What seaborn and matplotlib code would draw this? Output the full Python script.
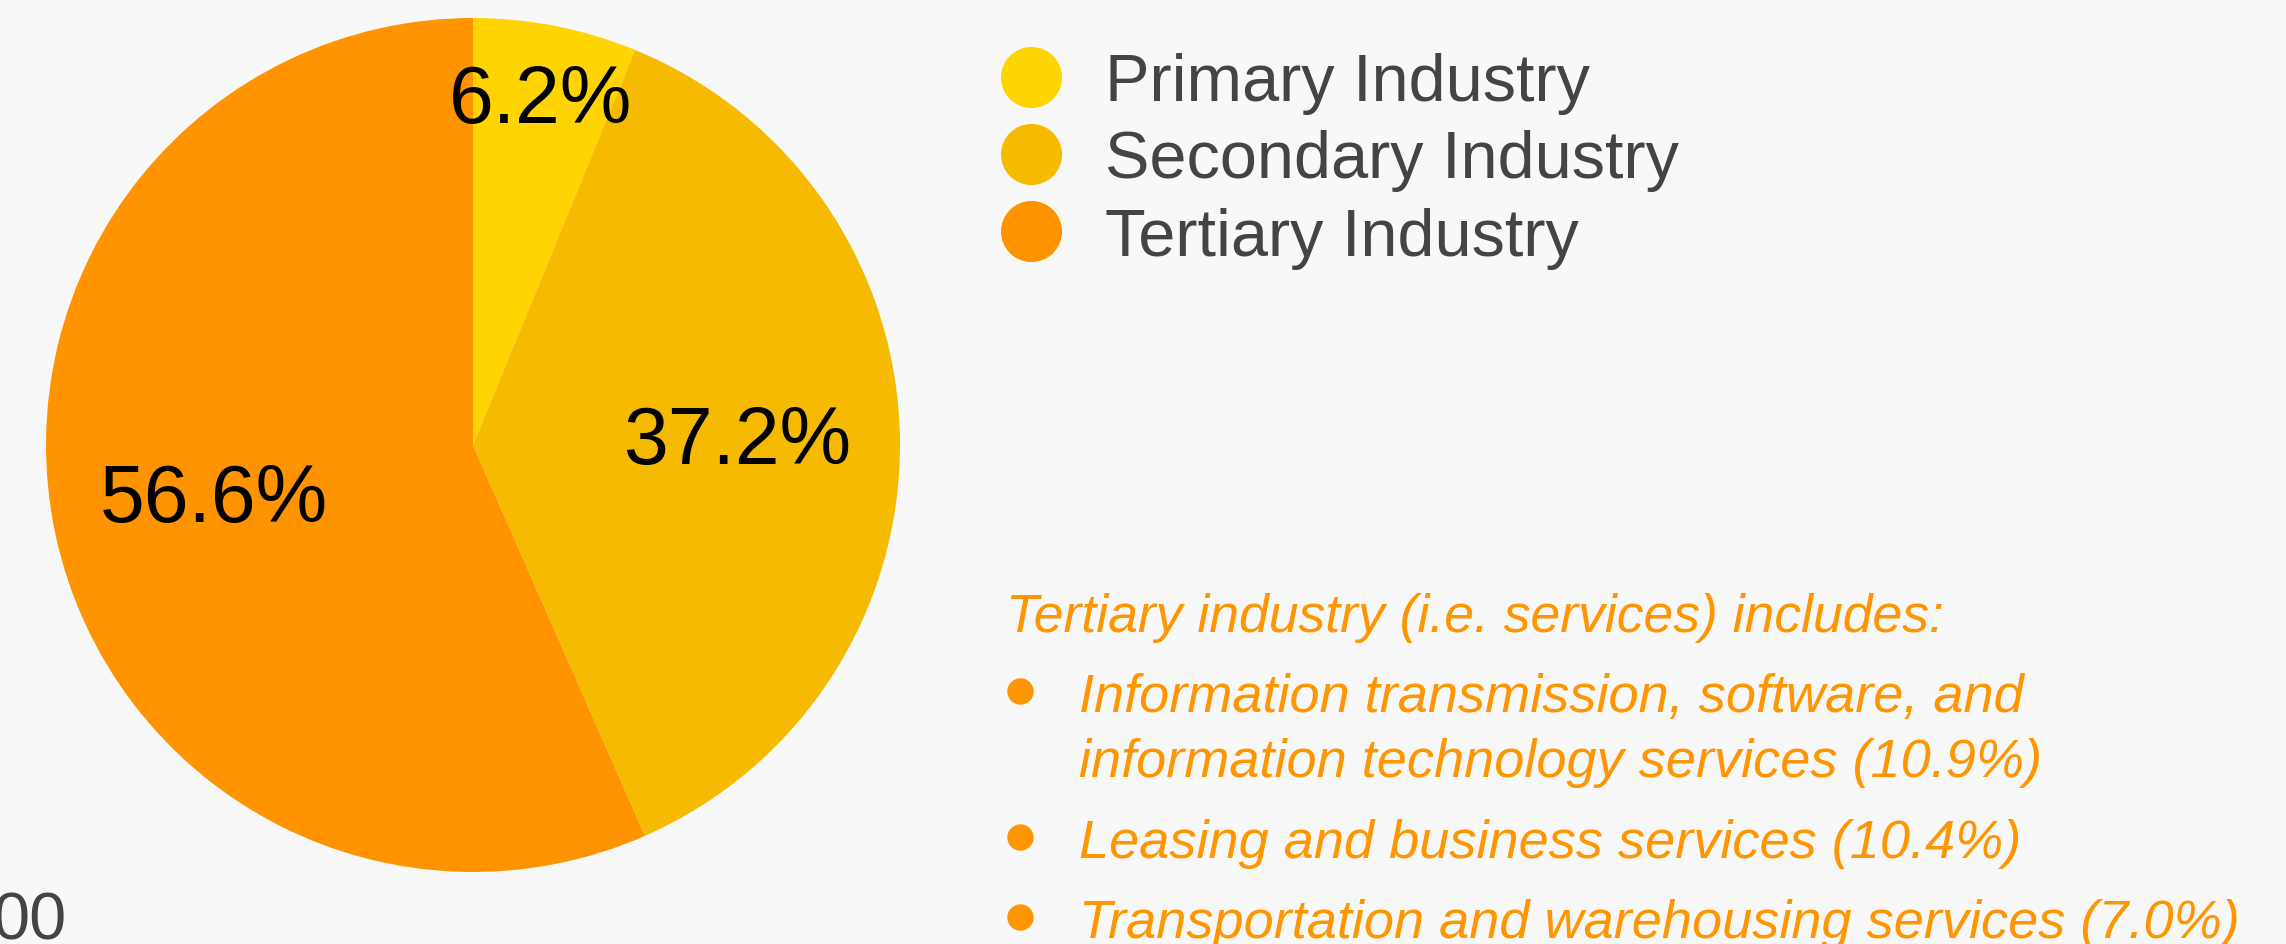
import matplotlib
matplotlib.use("Agg")
import matplotlib.pyplot as plt
from matplotlib.lines import Line2D
import seaborn as sns

# GDP composition by sector
sectors = ['Primary Industry', 'Secondary Industry', 'Tertiary Industry']
shares = [6.2, 37.2, 56.6]
sector_colors = ['#ffd400', '#f6bb00', '#ff9400']

note_title = 'Tertiary industry (i.e. services) includes:'
note_items = [['Information transmission, software, and',
               'information technology services (10.9%)'],
              ['Leasing and business services (10.4%)'],
              ['Transportation and warehousing services (7.0%)']]

sns.set_style('white')
plt.rcParams['font.family'] = ['Liberation Sans', 'DejaVu Sans']

bg = '#f8f8f8'
W, H = 2286, 945
fig = plt.figure(figsize=(W / 100, H / 100), dpi=100, facecolor=bg)

# pie axes: centre (473, 446), radius ~427 px
ax = fig.add_axes([(473 - 427) / W, (H - 446 - 427) / H, 854 / W, 854 / H])
ax.set_facecolor(bg)
wedges, texts, autotexts = ax.pie(
    shares, colors=sector_colors, startangle=90, counterclock=False,
    autopct='%.1f%%', pctdistance=0.62,
    textprops=dict(fontsize=58, color='black'),
    wedgeprops=dict(linewidth=0))
# small slice label sits further out
x, y = autotexts[0].get_position()
autotexts[0].set_position((x * 0.82 / 0.62, y * 0.82 / 0.62))
ax.set_xlim(-1, 1)
ax.set_ylim(-1, 1)
ax.set_aspect('equal')
ax.axis('off')

# legend
handles = [Line2D([], [], marker='o', linestyle='', markersize=44,
                  markerfacecolor=c, markeredgewidth=0) for c in sector_colors]
fig.legend(handles, sectors, loc='upper left', bbox_to_anchor=(998 / W, 1 - 53 / H),
           frameon=False, fontsize=48, labelcolor='#444444', handlelength=1.0,
           handletextpad=0.6, labelspacing=0.23, borderpad=0, borderaxespad=0)

# note on tertiary industry
orange = '#ff9500'
fig.text(1006 / W, 1 - 632 / H, note_title, ha='left', va='baseline',
         fontsize=38.5, fontstyle='italic', color=orange)
first_baselines = [712, 858, 938]
line_gap = 65
for lines, base in zip(note_items, first_baselines):
    fig.add_artist(Line2D([1020 / W], [1 - (base - 20) / H], marker='o',
                          markersize=19, color=orange, markeredgewidth=0,
                          transform=fig.transFigure))
    for i, line in enumerate(lines):
        fig.text(1079 / W, 1 - (base + i * line_gap) / H, line, ha='left',
                 va='baseline', fontsize=39, fontstyle='italic', color=orange)

# clipped axis label remnant at bottom left
fig.text(67 / W, 1 - 940 / H, '00', ha='right', va='baseline',
         fontsize=48, color='#444444')

fig.savefig('out.png', dpi=100, facecolor=bg)
